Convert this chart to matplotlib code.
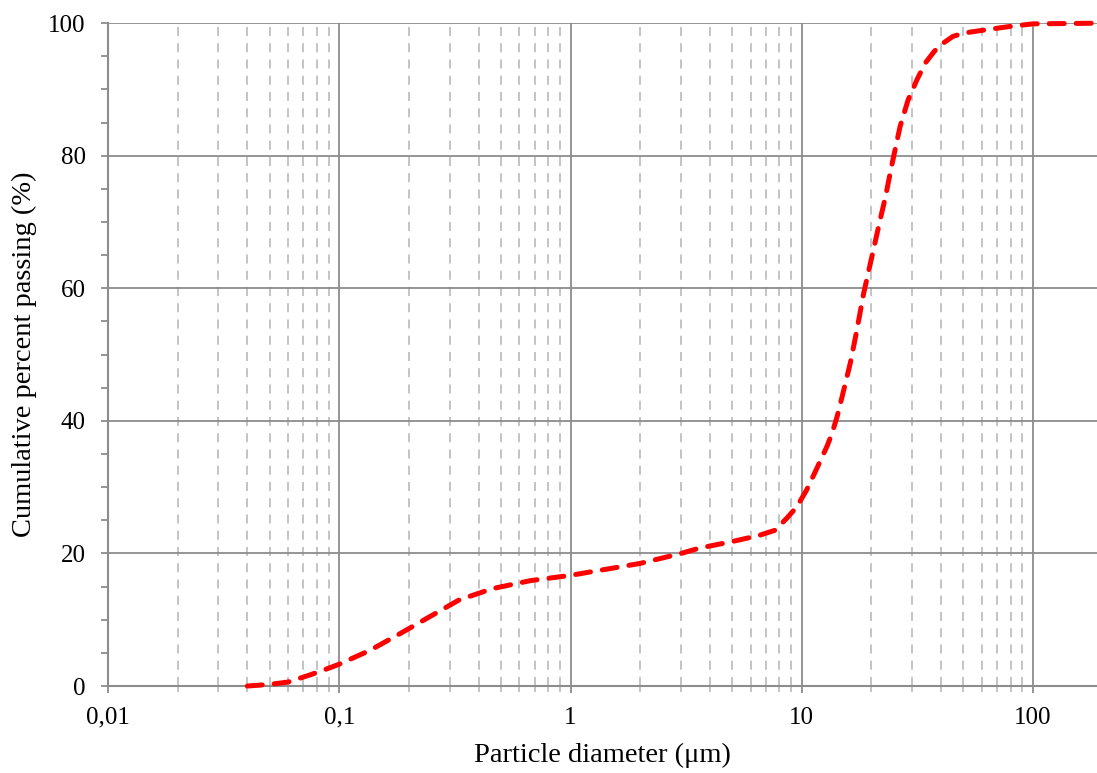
import matplotlib
matplotlib.use("Agg")
import matplotlib.pyplot as plt
from matplotlib.ticker import FixedLocator, FuncFormatter, MultipleLocator

plt.rcParams['font.family'] = ['Liberation Serif', 'DejaVu Serif']

# Data
diameter_um = [0.04, 0.05, 0.06, 0.075, 0.087, 0.1, 0.136, 0.183, 0.25, 0.33,
               0.46, 0.67, 1.0, 2.0, 3.0, 3.6, 5.0, 6.5, 7.66, 8.6, 9.5, 10.5,
               11.6, 12.9, 13.5, 14.2, 14.9, 16.2, 17.3, 18.5, 19.8, 21.8, 23.0,
               24.5, 26.6, 28.8, 31.5, 34.2, 37.5, 40.9, 45.0, 50.0,
               57.0, 79.0, 100.0, 190.0]
passing_pct = [0.0, 0.25, 0.6, 1.7, 2.5, 3.3, 5.4, 7.9, 10.6, 13.0,
               14.7, 15.9, 16.7, 18.5, 20.0, 20.8, 21.8, 22.7, 23.5, 25.3, 27.0, 29.6,
               32.8, 36.3, 38.1, 40.6, 43.5, 48.7, 53.7, 59.2, 63.8, 70.3, 73.8,
               78.6, 84.4, 88.4, 91.5, 94.0, 95.8, 97.0, 98.0, 98.5,
               98.8, 99.5, 99.9, 100.0]

x_major_ticks = [0.01, 0.1, 1, 10, 100]
x_major_labels = ['0,01', '0,1', '1', '10', '100']
y_major_ticks = [0, 20, 40, 60, 80, 100]

fig = plt.figure(figsize=(10.97, 7.73), dpi=100)
ax = fig.add_axes([0.0985, 0.1125, 0.9015, 0.8575])

ax.set_xscale('log')
ax.set_xlim(0.01, 189)
ax.set_ylim(0, 100)

minor_x = [m * 10.0**e for e in range(-2, 2) for m in range(2, 10)]
label_map = dict(zip(x_major_ticks, x_major_labels))
ax.xaxis.set_major_locator(FixedLocator(x_major_ticks))
ax.xaxis.set_major_formatter(FuncFormatter(
    lambda v, p: label_map[min(x_major_ticks, key=lambda t: abs(t - v))]))
ax.xaxis.set_minor_locator(FixedLocator(minor_x))
ax.xaxis.set_minor_formatter(FuncFormatter(lambda v, p: ''))
ax.yaxis.set_major_locator(FixedLocator(y_major_ticks))
ax.yaxis.set_minor_locator(MultipleLocator(5))

grid_major = '#8c8c8c'
grid_minor = '#bfbfbf'
ax.grid(which='major', axis='both', color=grid_major, linewidth=1.3, linestyle='-')
ax.grid(which='minor', axis='x', color=grid_minor, linewidth=1.3, linestyle=(0, (5, 4)))

for s in ['top', 'right']:
    ax.spines[s].set_visible(False)
for s in ['left', 'bottom']:
    ax.spines[s].set_color(grid_major)
    ax.spines[s].set_linewidth(1.5)

ax.tick_params(axis='both', which='major', direction='out', length=5, width=1.3,
               color=grid_major, labelsize=18)
ax.tick_params(axis='y', which='major', pad=11)
ax.tick_params(axis='x', which='major', pad=10)
ax.tick_params(axis='x', which='minor', direction='out', length=4, width=1.3,
               color=grid_minor)
ax.tick_params(axis='y', which='minor', direction='out', length=5, width=1.3,
               color=grid_major)

ax.plot(diameter_um, passing_pct, color='#ff0000', linewidth=3.6,
        linestyle=(0, (3.0, 2.4)), dash_capstyle='round', zorder=5, clip_on=False)

ax.set_xlabel('Particle diameter (\u03bcm)', fontsize=20.5, labelpad=10)
ax.set_ylabel('Cumulative percent passing (%)', fontsize=20.5, labelpad=8)

fig.savefig('out.png', dpi=100)
